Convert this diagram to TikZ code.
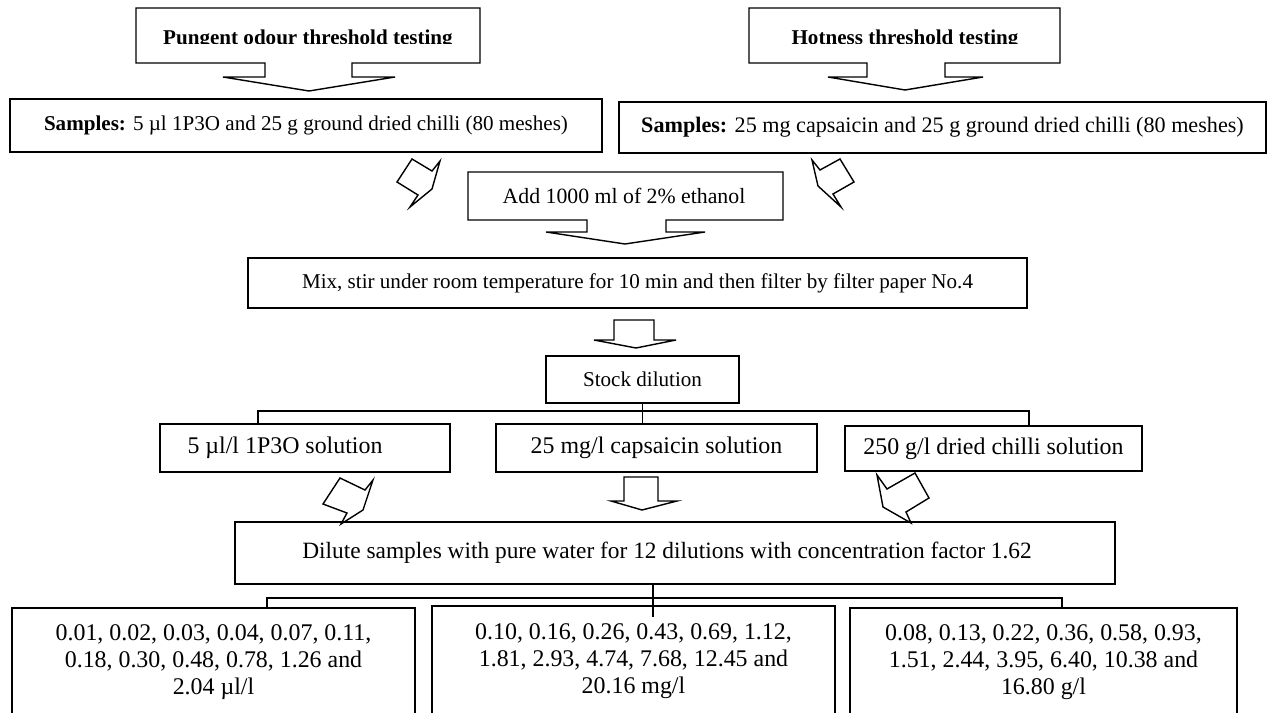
\documentclass[tikz,border=0pt]{standalone}
\usepackage{fontspec}
\setmainfont{Liberation Serif}
\usetikzlibrary{calc}

\def\px{0.02cm}

\tikzset{
	box/.style={draw, line width=0.8pt, inner sep=0pt, align=center, font=\fontsize{12}{14}\selectfont},
	bigbox/.style={box, font=\fontsize{13.6}{15.2}\selectfont},
	outline/.style={draw, line width=0.8pt, line join=miter},
	link/.style={draw, line width=0.8pt},
	title/.style={inner sep=0pt, font=\fontsize{12}{14}\selectfont\bfseries}
}

\begin{document}
\begin{tikzpicture}[x=\px, y=-\px]
	\useasboundingbox (0,0) rectangle (1272,713);

	% Testing callouts
	\draw[outline] (136,8) -- (480,8) -- (480,63) -- (352,63) -- (352,77) -- (395,77) --
		(309,91) -- (223,77) -- (265,77) -- (265,63) -- (136,63) -- cycle;
	\begin{scope}
		\clip (136,8) rectangle (480,44);
		\node[title, anchor=base] (pungent) at (308,45) {Pungent odour threshold testing};
	\end{scope}

	\draw[outline] (749,8) -- (1060,8) -- (1060,63) -- (945,63) -- (945,77) -- (983,77) --
		(905,90) -- (828,77) -- (867,77) -- (867,63) -- (749,63) -- cycle;
	\begin{scope}
		\clip (749,8) rectangle (1060,44);
		\node[title, anchor=base] (hotness) at (905,45) {Hotness threshold testing};
	\end{scope}

	% Samples
	\node[box, minimum width={592*\px}, minimum height={53*\px}] (samp1) at (306,125.5)
		{\textbf{Samples:} 5 µl 1P3O and 25 g ground dried chilli (80 meshes)};
	\node[box, minimum width={647*\px}, minimum height={51*\px}, font=\fontsize{12.6}{15}\selectfont] (samp2) at (942.5,127.5)
		{\textbf{Samples:} 25 mg capsaicin and 25 g ground dried chilli (80 meshes)};

	\draw[outline] (412,159) -- (432,171) -- (440,161) -- (432,189) -- (410,207) -- (418,195) -- (397,182) -- cycle;
	\draw[outline] (812,160) -- (820,170) -- (840,159) -- (854,182) -- (833,194) -- (841,207) -- (818,186) -- cycle;

	% Extraction
	\draw[outline] (468,172) -- (783,172) -- (783,220) -- (666,220) -- (666,232) -- (705,232) --
		(625,244) -- (546,232) -- (587,232) -- (587,220) -- (468,220) -- cycle;
	\node[box, draw=none, font=\fontsize{12.4}{15}\selectfont] (add) at (624,196) {Add 1000 ml of 2\% ethanol};

	\node[box, minimum width={779*\px}, minimum height={50*\px}] (mix) at (637.5,283)
		{Mix, stir under room temperature for 10 min and then filter by filter paper No.4};

	\draw[outline] (614,320) -- (654,320) -- (654,340) -- (676,340) -- (636,348) -- (594,340) -- (614,340) -- cycle;

	\node[box, minimum width={193*\px}, minimum height={47*\px}] (stock) at (642.5,379.5) {Stock dilution};

	% Stock solutions
	\node[bigbox, minimum width={290*\px}, minimum height={48*\px}] (sol1) at (305,448) {};
	\node[font=\fontsize{13.6}{15.2}\selectfont, inner sep=0pt] (sol1text) at (285,448) {5 µl/l 1P3O solution};
	\node[bigbox, minimum width={321*\px}, minimum height={48*\px}] (sol2) at (656.5,448) {25 mg/l capsaicin solution};
	\node[bigbox, minimum width={297*\px}, minimum height={45*\px}] (sol3) at (993.5,448.5) {250 g/l dried chilli solution};

	\coordinate (upL) at (258,411);
	\coordinate (upR) at (1029,411);
	\draw[link] (stock.south) -- (stock.south |- sol2.north);
	\draw[link] (upL |- sol1.north) -- (upL) -- (upR) -- (upR |- sol3.north);

	\draw[outline] (340,478) -- (365,490) -- (373,480) -- (363,510) -- (341,524) -- (347,513) -- (323,504) -- cycle;
	\draw[outline] (624,477) -- (658,477) -- (658,501) -- (677,501) -- (642,510) -- (611,501) -- (624,501) -- cycle;
	\draw[outline] (877,475) -- (887,489) -- (915,473) -- (929,498) -- (906,512) -- (911,523) -- (883,507) -- cycle;

	% Dilution series
	\node[box, minimum width={880*\px}, minimum height={62*\px}] (dilute) at (675,553) {};
	\node[font=\fontsize{13.3}{15}\selectfont, inner sep=0pt] (dilutetext) at (667,553)
		{Dilute samples with pure water for 12 dilutions with concentration factor 1.62};

	\node[bigbox, minimum width={403*\px}, minimum height={108*\px}] (conc1) at (213.5,662)
		{0.01, 0.02, 0.03, 0.04, 0.07, 0.11,\\ 0.18, 0.30, 0.48, 0.78, 1.26 and\\ 2.04 µl/l};
	\node[bigbox, minimum width={403*\px}, minimum height={110*\px}] (conc2) at (633.5,661)
		{0.10, 0.16, 0.26, 0.43, 0.69, 1.12,\\ 1.81, 2.93, 4.74, 7.68, 12.45 and\\ 20.16 mg/l};
	\node[bigbox, minimum width={387*\px}, minimum height={108*\px}] (conc3) at (1043.5,662)
		{0.08, 0.13, 0.22, 0.36, 0.58, 0.93,\\ 1.51, 2.44, 3.95, 6.40, 10.38 and\\ 16.80 g/l};

	\coordinate (loL) at (267,598);
	\coordinate (loM) at (653,598);
	\coordinate (loR) at (1062,598);
	\draw[link] (loM |- dilute.south) -- ($(loM |- conc2.north)+(0,12)$);
	\draw[link] (loL |- conc1.north) -- (loL) -- (loR) -- (loR |- conc3.north);

\end{tikzpicture}
\end{document}
